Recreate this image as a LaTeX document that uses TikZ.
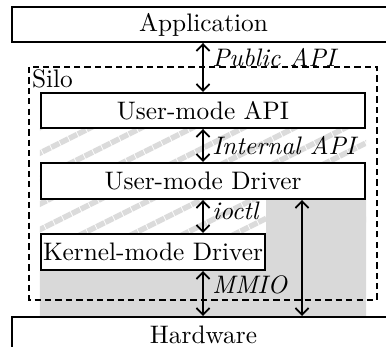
\documentclass[tikz,border=0pt]{standalone}
\usetikzlibrary{arrows.meta,backgrounds}
\tikzset{
  layer/.style={draw, line width=0.8pt, fill=white, inner sep=0pt},
  iface/.style={line width=0.7pt, {Straight Barb[length=2.7pt,width=5.2pt]}-{Straight Barb[length=2.7pt,width=5.2pt]}},
  ifacelabel/.style={anchor=west, font=\itshape},
  silo/.style={line width=0.6pt, dash pattern=on 2.5pt off 1.6pt},
  stripe/.style={black!14, line width=2.2pt, dash pattern=on 3.5pt off 0.4pt},
}
\begin{document}
\begin{tikzpicture}[x=0.395pt, y=-0.395pt]
  \useasboundingbox (0,0) rectangle (386,347);
  \clip (0,0) rectangle (386,347);

  % Marking the layers
  \node [layer, minimum width=151.3pt, minimum height=13.8pt] (app) at (203.5,24.5) {Application};
  \node [layer, minimum width=128pt, minimum height=13.8pt] (umapi) at (203,110.5) {User-mode API};
  \node [layer, minimum width=128pt, minimum height=14.2pt] (umdrv) at (203,181) {User-mode Driver};
  \node [layer, minimum width=88.5pt, minimum height=14.2pt] (kmdrv) at (153,252) {Kernel-mode Driver};
  \node [layer, minimum width=151.3pt, minimum height=13.8pt] (hw) at (203.5,334.5) {Hardware};

  % Drawing the silo
  \draw [silo] (29,67) rectangle (377,300);
  \node [anchor=north west, inner sep=1pt] (silolabel) at (29,67) {Silo};

  % Drawing the interfaces
  \draw [iface] (app.south -| umapi.north) -- node [ifacelabel, pos=0.29] {Public API} (umapi.north);
  \draw [iface] (umapi.south) -- node [ifacelabel] {Internal API} (umdrv.north);
  \draw [iface] (umdrv.south) -- node [ifacelabel, pos=0.34] {ioctl} (umdrv.south |- kmdrv.north);
  \draw [iface] (kmdrv.south -| umdrv.south) -- node [ifacelabel, pos=0.3] {MMIO} (hw.north -| umdrv.south);

  % Drawing line user-mode driver to hardware
  \coordinate (rx) at (302,0);
  \draw [iface] (umdrv.south -| rx) -- (hw.north -| rx);

  % Shading user and kernel space
  \begin{pgfonlayer}{background}
    \begin{scope}
      \clip (umapi.south west) rectangle (kmdrv.north -| umapi.east);
      \foreach \k in {0,...,11}
        \draw [stripe] (-185+51*\k,240) -- ++(240,-120);
    \end{scope}
    \fill [black!15] (kmdrv.east |- umdrv.south) -- (umdrv.south east)
      -- (umdrv.south east |- hw.north) -- (kmdrv.west |- hw.north)
      -- (kmdrv.south west) -- (kmdrv.south east) -- cycle;
  \end{pgfonlayer}
\end{tikzpicture}
\end{document}
